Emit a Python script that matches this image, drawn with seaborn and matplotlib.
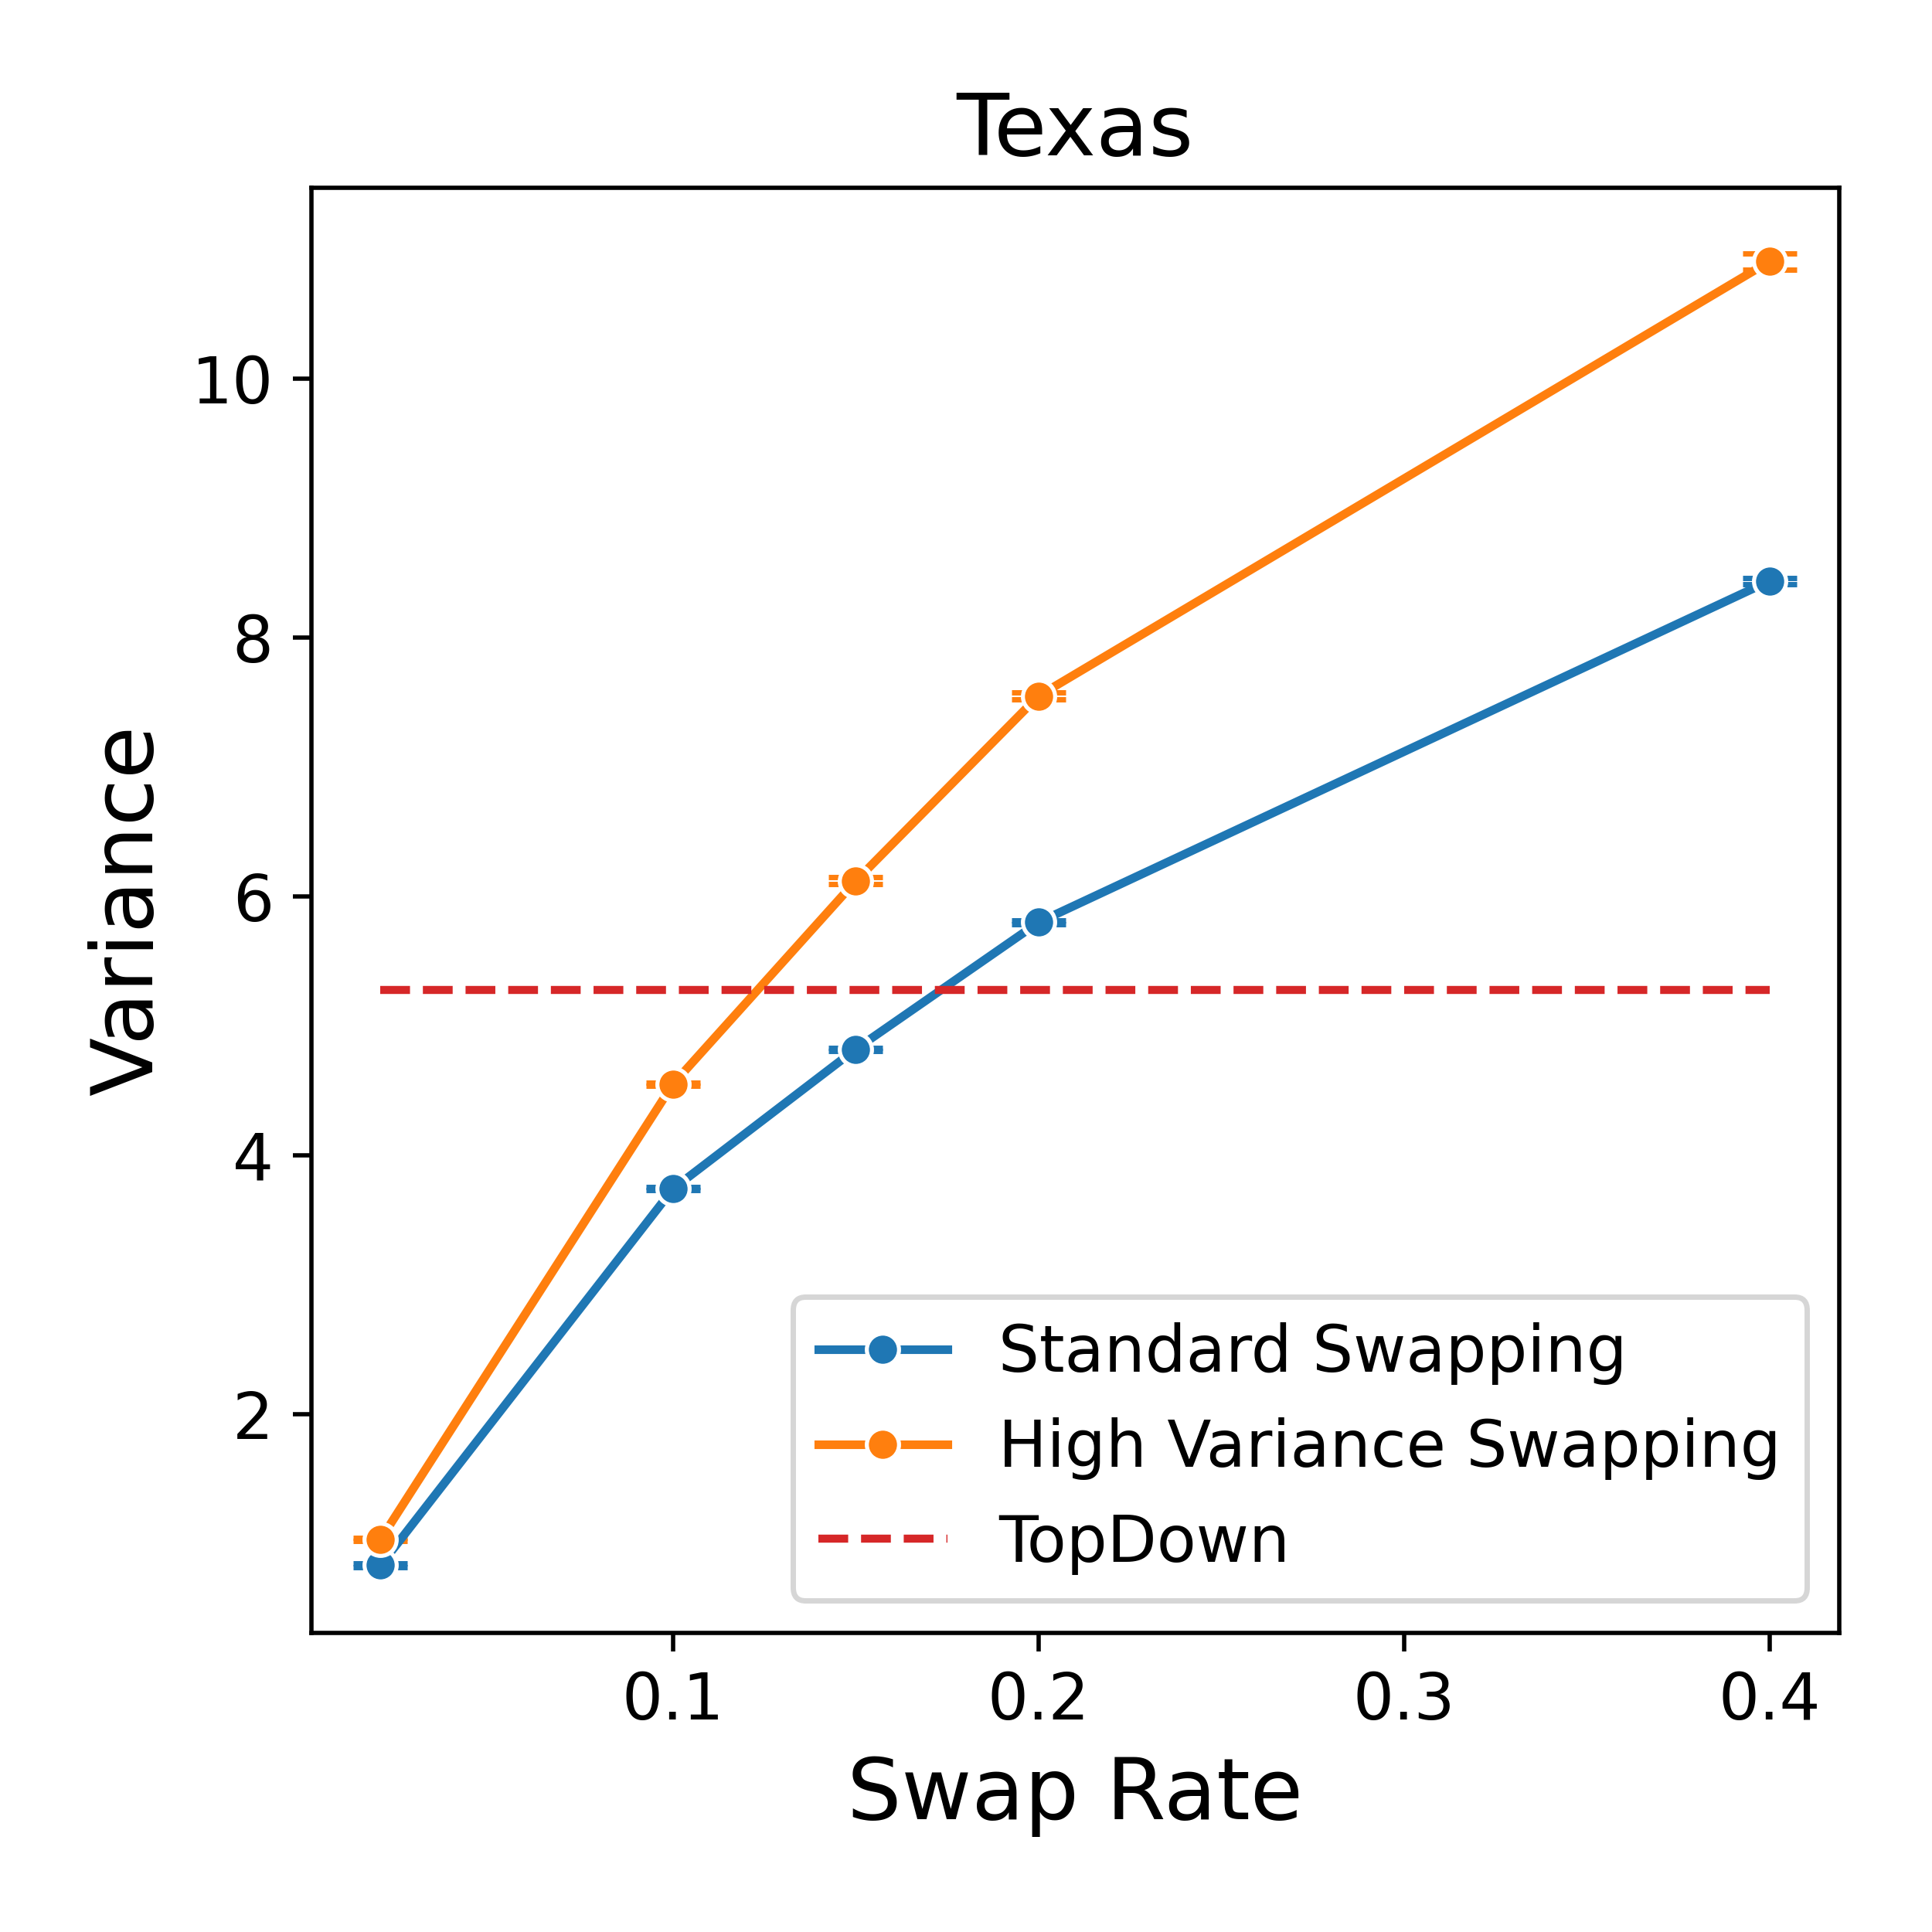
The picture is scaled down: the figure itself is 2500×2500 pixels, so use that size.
import numpy as np
import pandas as pd
import matplotlib
matplotlib.use('Agg')
import matplotlib.pyplot as plt
import seaborn as sns

# values
swap_rates = [0.02, 0.1, 0.15, 0.2, 0.4]
standard_var = [0.83, 3.74, 4.82, 5.80, 8.44]
standard_err = [0.012, 0.012, 0.012, 0.014, 0.024]
high_var = [1.03, 4.55, 6.12, 7.55, 10.91]
high_err = [0.012, 0.012, 0.027, 0.027, 0.063]
topdown_var = 5.28

methods = ['Standard Swapping', 'High Variance Swapping']
colors = ['tab:blue', 'tab:orange']

df = pd.DataFrame({
    'Swap Rate': swap_rates * 2,
    'Variance': standard_var + high_var,
    'method': [methods[0]] * len(swap_rates) + [methods[1]] * len(swap_rates),
})

fig, ax = plt.subplots(figsize=(5, 5), dpi=500)

sns.lineplot(data=df, x='Swap Rate', y='Variance', hue='method', hue_order=methods,
             palette=colors, marker='o', markersize=6, linewidth=1.6,
             errorbar=None, ax=ax)

# error bars with caps (behind the markers)
for vals, errs, c in [(standard_var, standard_err, colors[0]), (high_var, high_err, colors[1])]:
    ax.errorbar(swap_rates, vals, yerr=errs, fmt='none', ecolor=c,
                capsize=5, zorder=1)

sns.lineplot(x=swap_rates, y=[topdown_var] * len(swap_rates), color='tab:red',
             linestyle='--', linewidth=1.5, label='TopDown', ax=ax)

ax.set_title('Texas', fontsize=16)
ax.set_xlabel('Swap Rate', fontsize=16)
ax.set_ylabel('Variance', fontsize=16)
ax.tick_params(labelsize=12)
ax.legend(loc='lower right', fontsize=12)

fig.subplots_adjust(left=0.161, right=0.952, top=0.903, bottom=0.155)
fig.savefig('out.png', dpi=500)
